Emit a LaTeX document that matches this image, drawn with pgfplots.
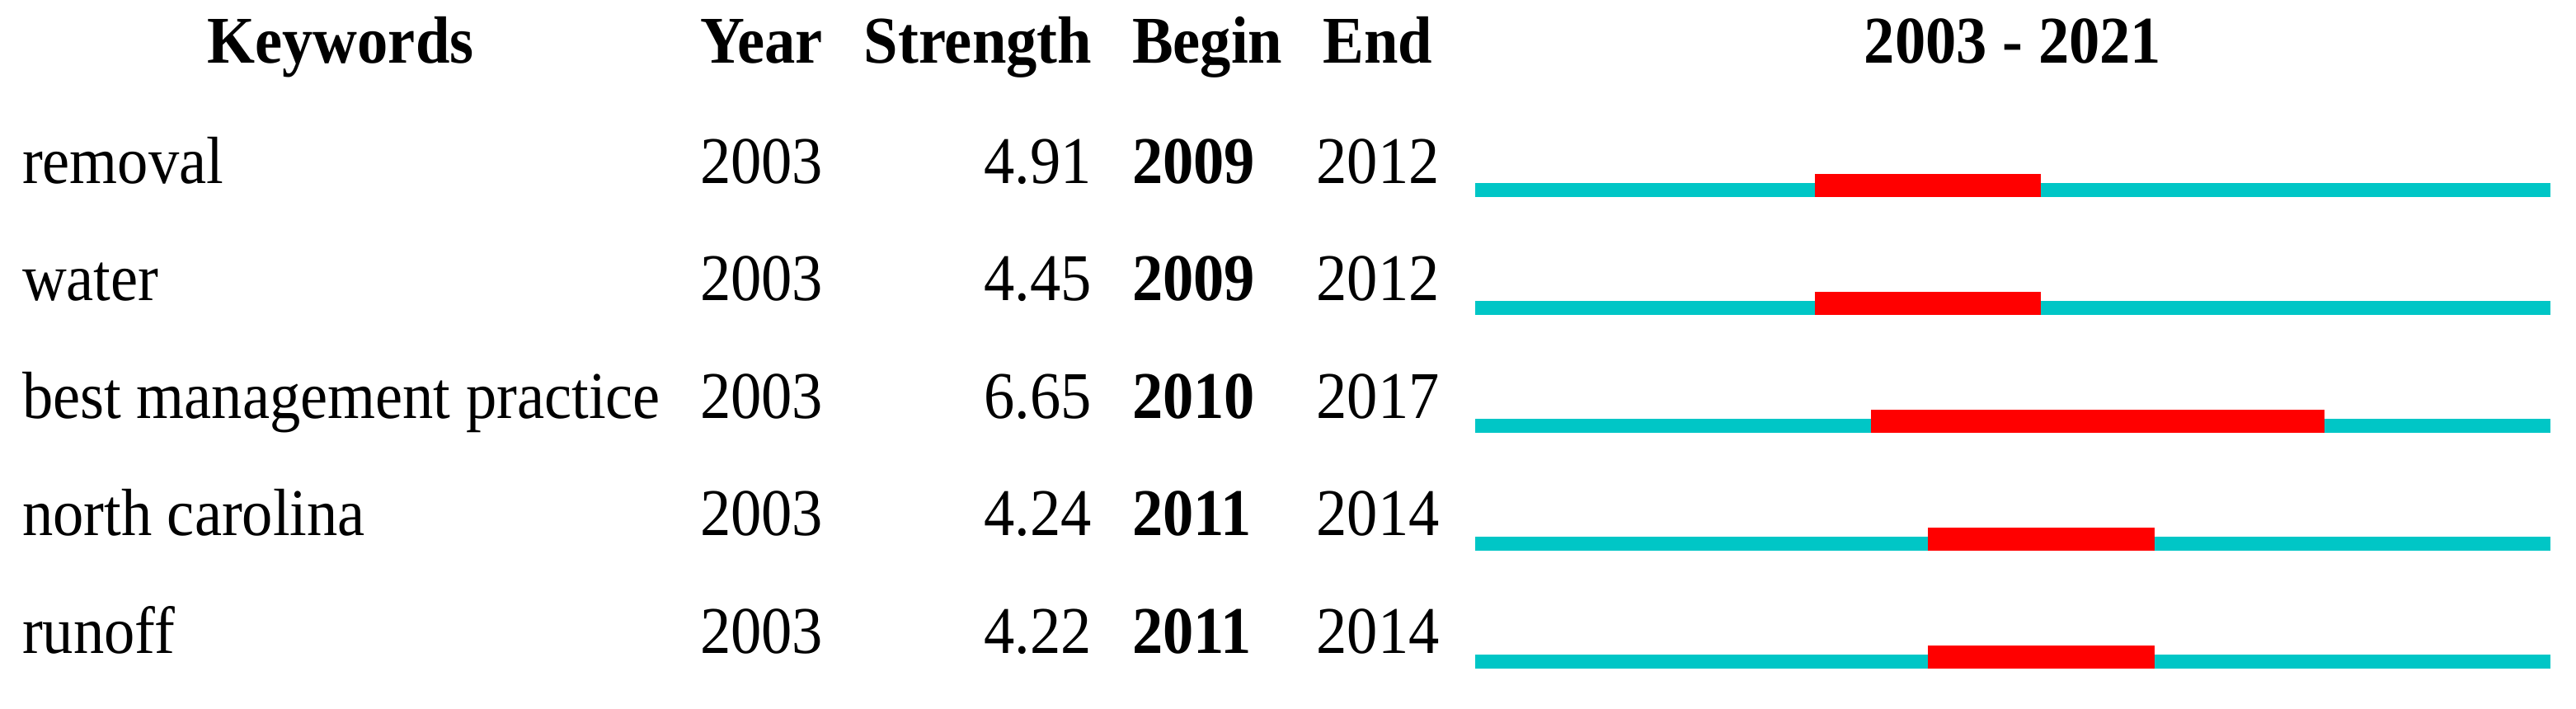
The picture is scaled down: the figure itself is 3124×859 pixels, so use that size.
\documentclass[border=0pt]{standalone}
\usepackage{pgfplots}
\pgfplotsset{compat=1.18}
\usepackage{fontspec}
\setmainfont[FakeStretch=0.92]{Liberation Serif}
\definecolor{burstcyan}{RGB}{0,198,198}
\definecolor{burstred}{RGB}{255,0,0}

\begin{document}
\begin{tikzpicture}[every node/.style={font=\fontsize{16.2}{19}\selectfont, inner sep=0pt}]
\begin{axis}[
    at={(0,0)}, anchor=north west,
    width=624.8pt, height=171.8pt, scale only axis,
    xmin=1976.933, xmax=2022.452,
    ymin=-0.6084, ymax=5.3986, y dir=reverse,
    hide axis, clip=false
]
% full period 2003-2021 (one row per keyword)
\addplot[burstcyan, line width=3.4pt] coordinates {(2003,1) (2022,1)};
\addplot[burstcyan, line width=3.4pt] coordinates {(2003,2) (2022,2)};
\addplot[burstcyan, line width=3.4pt] coordinates {(2003,3) (2022,3)};
\addplot[burstcyan, line width=3.4pt] coordinates {(2003,4) (2022,4)};
\addplot[burstcyan, line width=3.4pt] coordinates {(2003,5) (2022,5)};
% bursts: begin to end+1
\addplot[burstred, line width=5.6pt, yshift=1.1pt] coordinates {(2009,1) (2013,1)};
\addplot[burstred, line width=5.6pt, yshift=1.1pt] coordinates {(2009,2) (2013,2)};
\addplot[burstred, line width=5.6pt, yshift=1.1pt] coordinates {(2010,3) (2018,3)};
\addplot[burstred, line width=5.6pt, yshift=1.1pt] coordinates {(2011,4) (2015,4)};
\addplot[burstred, line width=5.6pt, yshift=1.1pt] coordinates {(2011,5) (2015,5)};
\end{axis}
\begin{scope}[x=0.2pt, y=-0.2pt]
\path (0,0) rectangle (3124,859);
% header
\node[anchor=base] at (413,76) {\textbf{Keywords}};
\node[anchor=base west] at (848,76) {\textbf{Year}};
\node[anchor=base east] at (1325,76) {\textbf{Strength}};
\node[anchor=base west] at (1372,76) {\textbf{Begin}};
\node[anchor=base] at (1671,76) {\textbf{End}};
\node[anchor=base] at (2441,76) {\textbf{2003 - 2021}};
% rows
\foreach \kw/\st/\be/\en [count=\i from 0] in {
    removal/4.91/2009/2012,
    water/4.45/2009/2012,
    best management practice/6.65/2010/2017,
    north carolina/4.24/2011/2014,
    runoff/4.22/2011/2014} {
  \pgfmathsetmacro{\yy}{222+142.5*\i}
  \node[anchor=base west] at (26,\yy) {\kw};
  \node[anchor=base west] at (848,\yy) {2003};
  \node[anchor=base east] at (1325,\yy) {\st};
  \node[anchor=base west] at (1372,\yy) {\textbf{\be}};
  \node[anchor=base] at (1671,\yy) {\en};
}
\end{scope}
\end{tikzpicture}
\end{document}
